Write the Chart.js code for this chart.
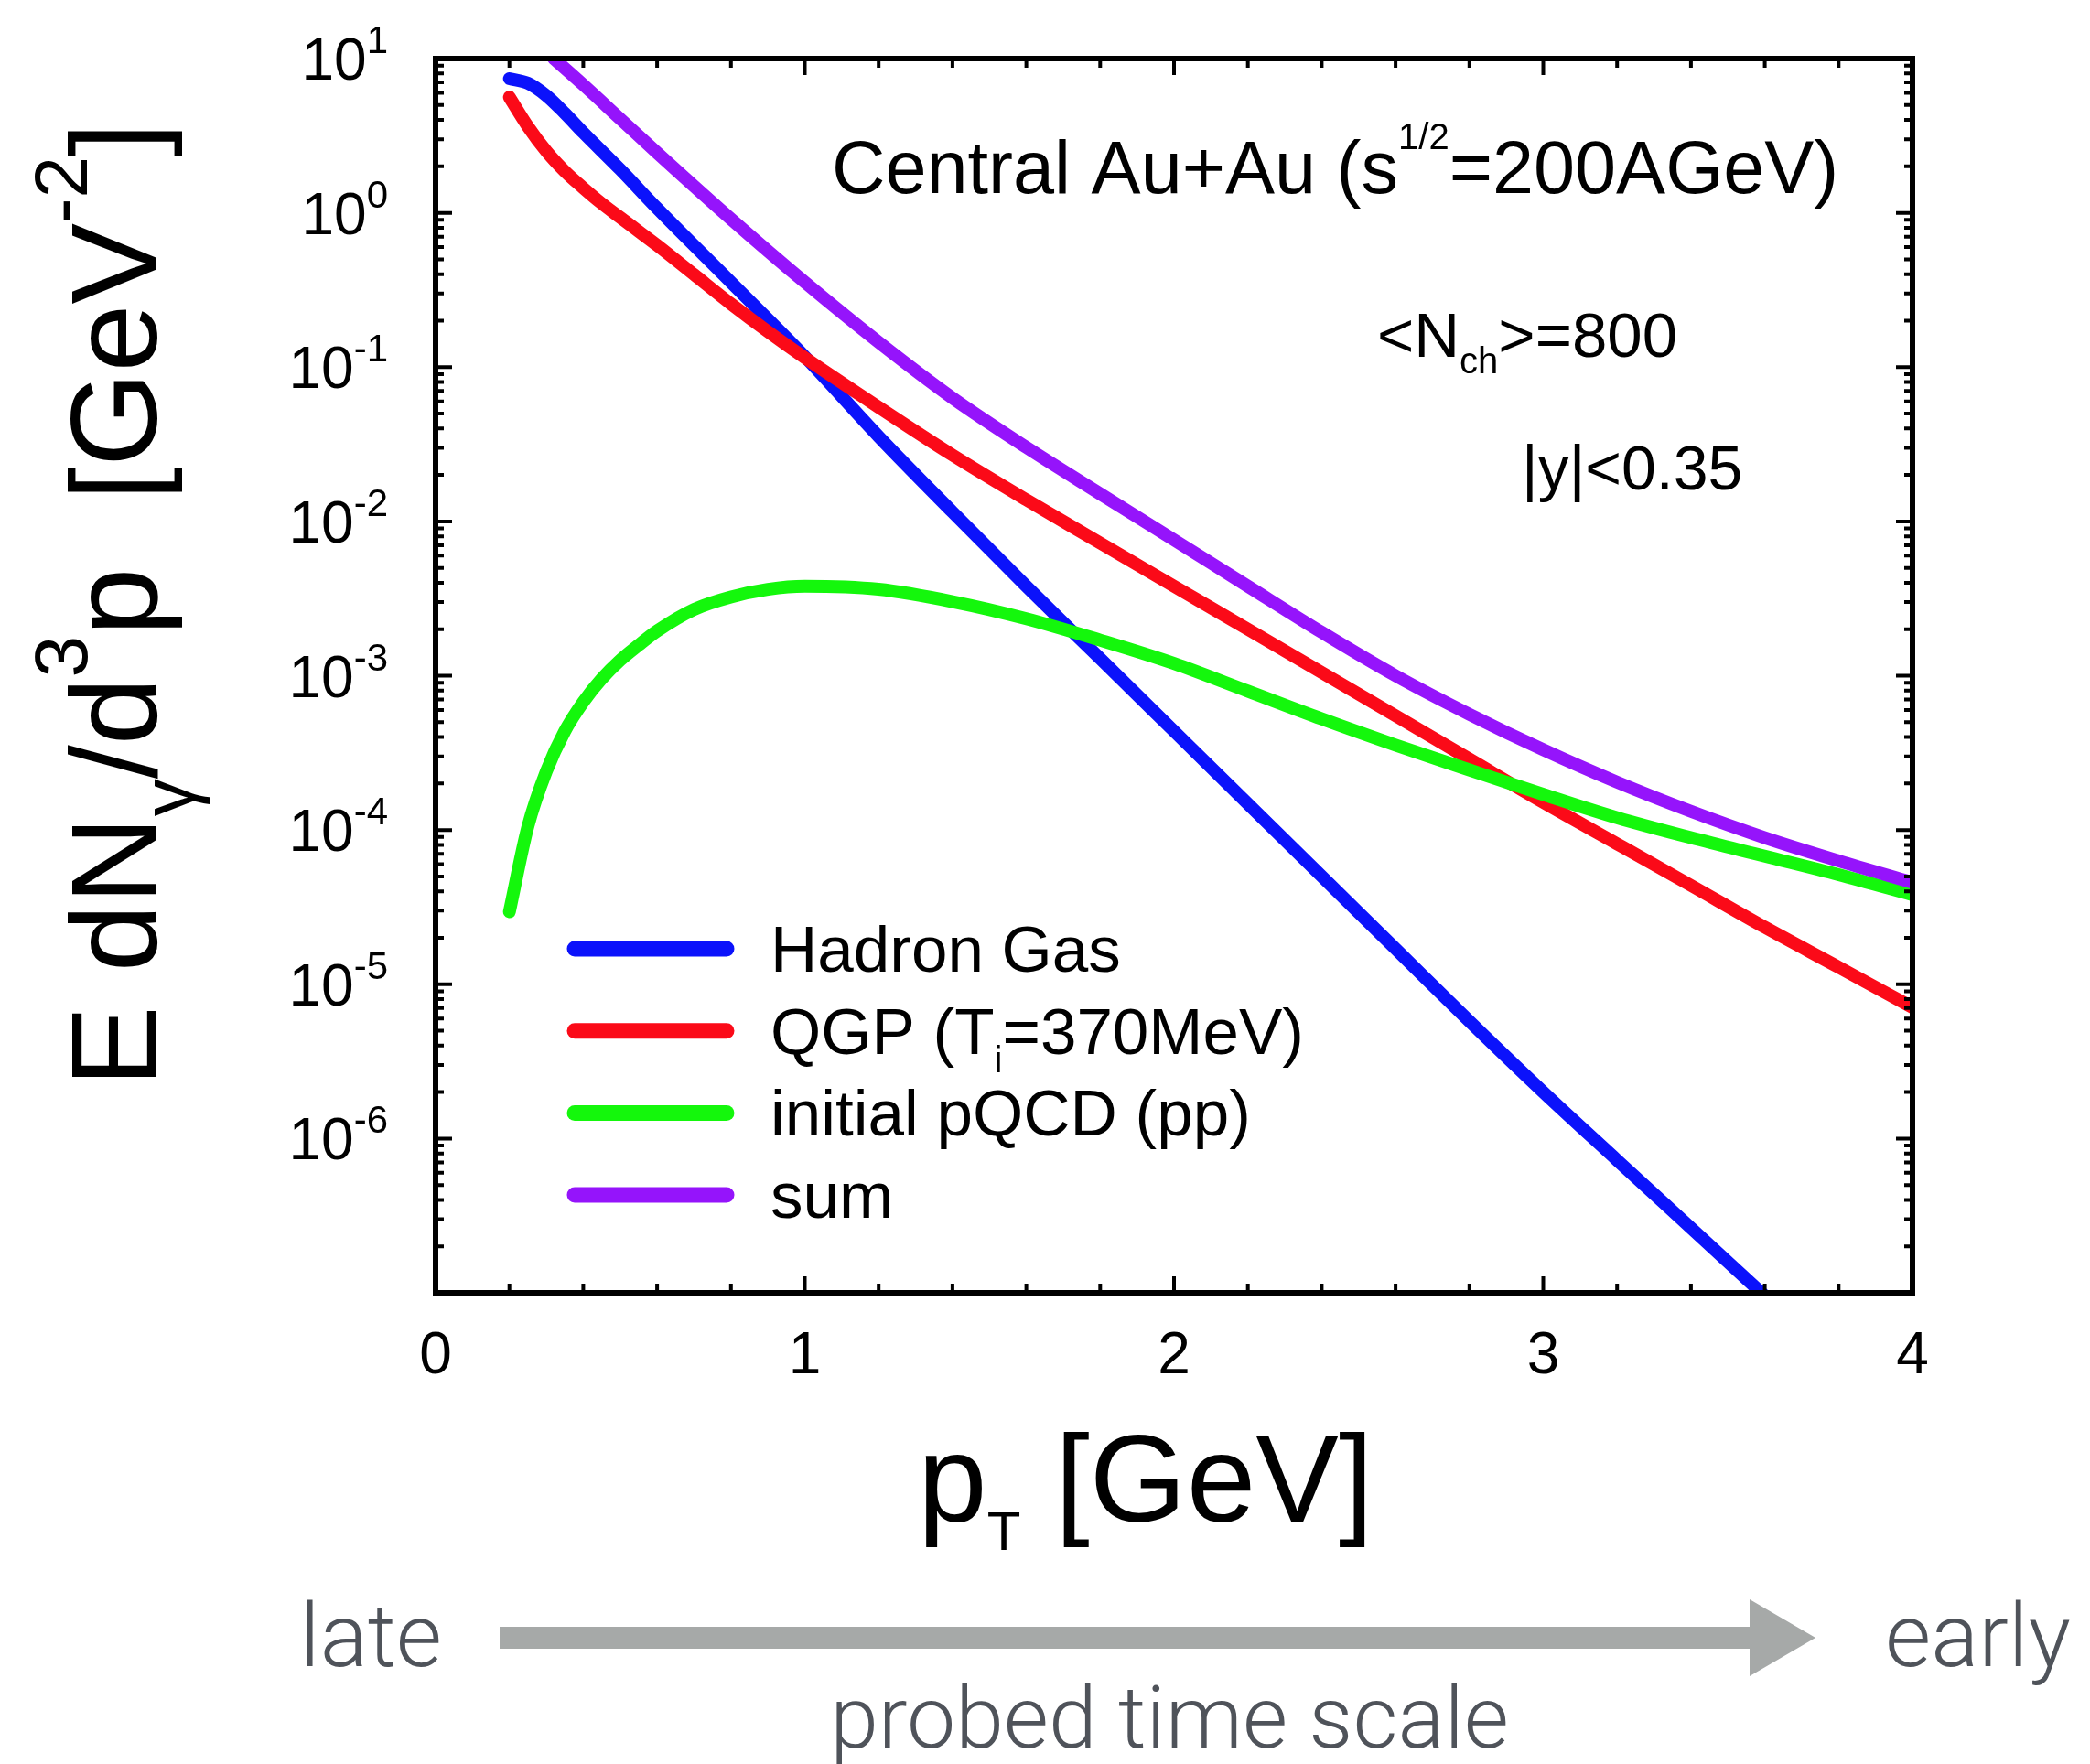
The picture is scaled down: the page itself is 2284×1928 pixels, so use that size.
<!DOCTYPE html>
<html>
<head>
<meta charset="utf-8">
<script src="https://cdn.jsdelivr.net/npm/chart.js@4.4.0/dist/chart.umd.min.js"></script>
<style>
  body { margin: 0; background: #fff; }
  canvas { display: block; }
</style>
</head>
<body>
<canvas id="espectro" width="2284" height="1928"></canvas>
<script>
// pT [GeV] and E dN/d3p [GeV^-2]
const ptHadron = [0.2, 0.25, 0.3, 0.35, 0.4, 0.5, 0.6, 0.8, 1.0, 1.2, 1.4, 1.6, 1.8, 2.0, 2.2, 2.4, 2.6, 2.8, 3.0, 3.2, 3.4, 3.6];
const hadronGas = [7.41, 6.92, 5.75, 4.42, 3.31, 1.91, 1.07, 0.355, 0.117, 3.55e-2, 1.15e-2, 3.80e-3, 1.29e-3, 4.37e-4, 1.48e-4, 5.01e-5, 1.70e-5, 5.75e-6, 2.00e-6, 7.24e-7, 2.63e-7, 9.55e-8];

const ptQgp = [0.2, 0.25, 0.3, 0.35, 0.4, 0.45, 0.5, 0.55, 0.6, 0.7, 0.8, 0.9, 1.0, 1.2, 1.4, 1.6, 1.8, 2.0, 2.2, 2.4, 2.6, 2.8, 3.0, 3.2, 3.4, 3.6, 3.8, 4.0];
const qgp = [5.62, 3.63, 2.51, 1.86, 1.45, 1.15, 0.933, 0.759, 0.617, 0.398, 0.257, 0.170, 0.115, 5.50e-2, 2.69e-2, 1.38e-2, 7.24e-3, 3.80e-3, 2.00e-3, 1.05e-3, 5.50e-4, 2.88e-4, 1.51e-4, 8.13e-5, 4.37e-5, 2.34e-5, 1.29e-5, 7.08e-6];

const ptPqcd = [0.2, 0.25, 0.3, 0.35, 0.4, 0.45, 0.5, 0.55, 0.6, 0.7, 0.8, 0.9, 1.0, 1.2, 1.4, 1.6, 1.8, 2.0, 2.2, 2.4, 2.6, 2.8, 3.0, 3.2, 3.4, 3.6, 3.8, 4.0];
const pqcd = [2.95e-5, 1.05e-4, 2.40e-4, 4.37e-4, 6.76e-4, 9.55e-4, 1.26e-3, 1.58e-3, 1.95e-3, 2.69e-3, 3.24e-3, 3.63e-3, 3.80e-3, 3.63e-3, 3.02e-3, 2.34e-3, 1.70e-3, 1.20e-3, 7.94e-4, 5.25e-4, 3.55e-4, 2.45e-4, 1.70e-4, 1.20e-4, 8.91e-5, 6.76e-5, 5.13e-5, 3.80e-5];

const ptSum = [0.32, 0.4, 0.5, 0.6, 0.8, 1.0, 1.2, 1.4, 1.6, 1.8, 2.0, 2.2, 2.4, 2.6, 2.8, 3.0, 3.2, 3.4, 3.6, 3.8, 4.0];
const soma = [10, 6.76, 4.07, 2.45, 0.912, 0.355, 0.145, 6.31e-2, 3.02e-2, 1.51e-2, 7.59e-3, 3.80e-3, 1.91e-3, 1.00e-3, 5.62e-4, 3.31e-4, 2.04e-4, 1.32e-4, 8.91e-5, 6.31e-5, 4.57e-5];

const xTicks = [0, 1, 2, 3, 4];
const yExpoentes = [1, 0, -1, -2, -3, -4, -5, -6];

const FONTE = '"Liberation Sans", Arial, Helvetica, sans-serif';
const FONTE_LEVE = 'Roboto, "Open Sans", Lato, sans-serif';

function pontos(xs, ys) {
    return xs.map((x, i) => ({ x: x, y: ys[i] }));
}

// draws text made of pieces [texto, tamanho, deslocamento vertical]
function textoRico(ctx, partes, x, y, alinhamento) {
    let largura = 0;
    partes.forEach(p => {
        ctx.font = p[1] + 'px ' + FONTE;
        largura += ctx.measureText(p[0]).width;
    });
    if (alinhamento === 'right') x -= largura;
    if (alinhamento === 'center') x -= largura / 2;
    ctx.textAlign = 'left';
    ctx.textBaseline = 'alphabetic';
    partes.forEach(p => {
        ctx.font = p[1] + 'px ' + FONTE;
        ctx.fillText(p[0], x, y + (p[2] || 0));
        x += ctx.measureText(p[0]).width;
    });
}

const moldura = {
    id: 'moldura',
    afterDraw(chart) {
        const ctx = chart.ctx;
        const a = chart.chartArea;
        const sx = chart.scales.x;
        const sy = chart.scales.y;
        ctx.save();
        ctx.strokeStyle = '#000';
        ctx.fillStyle = '#000';

        // ticks, pointing inwards on all four sides
        ctx.lineWidth = 4;
        ctx.beginPath();
        for (let k = 0; k <= 20; k++) {
            const v = k * 0.2;
            const px = sx.getPixelForValue(v);
            const len = (k % 5 === 0) ? 18 : 10;
            ctx.moveTo(px, a.bottom); ctx.lineTo(px, a.bottom - len);
            ctx.moveTo(px, a.top); ctx.lineTo(px, a.top + len);
        }
        for (let e = -7; e <= 0; e++) {
            for (let m = 1; m <= 9; m++) {
                const v = m * Math.pow(10, e);
                const py = sy.getPixelForValue(v);
                const len = (m === 1) ? 18 : 9;
                ctx.moveTo(a.left, py); ctx.lineTo(a.left + len, py);
                ctx.moveTo(a.right, py); ctx.lineTo(a.right - len, py);
            }
        }
        ctx.stroke();

        ctx.lineWidth = 6;
        ctx.strokeRect(a.left, a.top, a.right - a.left, a.bottom - a.top);

        // tick labels
        xTicks.forEach(v => {
            ctx.font = '64px ' + FONTE;
            ctx.textAlign = 'center';
            ctx.textBaseline = 'alphabetic';
            ctx.fillText(String(v), sx.getPixelForValue(v), a.bottom + 88);
        });
        yExpoentes.forEach(e => {
            const py = sy.getPixelForValue(Math.pow(10, e));
            textoRico(ctx, [['10', 64, 0], [String(e), 42, -29]], 424, py + 23, 'right');
        });

        // axis titles
        textoRico(ctx, [['p', 136, 0], ['T', 60, 31], [' [GeV]', 136, 0]], 1003, 1663, 'left');

        ctx.save();
        ctx.translate(171, 1188);
        ctx.rotate(-Math.PI / 2);
        textoRico(ctx, [['E dN', 133, 0], ['\u03b3', 82, 41], ['/d', 133, 0], ['3', 82, -76],
                        ['p  [GeV', 133, 0], ['-2', 82, -76], [']', 133, 0]], 0, 0, 'left');
        ctx.restore();

        // annotations
        textoRico(ctx, [['Central Au+Au (s', 81, 0], ['1/2', 40, -48], ['=200AGeV)', 81, 0]], 909, 211, 'left');
        textoRico(ctx, [['<N', 69, 0], ['ch', 40, 18], ['>=800', 69, 0]], 1505, 390, 'left');
        textoRico(ctx, [['|y|<0.35', 68, 0]], 1663, 535, 'left');

        // legend
        const rotulos = [
            [['Hadron Gas', 71, 0]],
            [['QGP (T', 71, 0], ['i', 40, 20], ['=370MeV)', 71, 0]],
            [['initial pQCD (pp)', 71, 0]],
            [['sum', 71, 0]]
        ];
        chart.data.datasets.forEach((ds, i) => {
            const ly = 1037 + i * 89.7;
            ctx.strokeStyle = ds.borderColor;
            ctx.lineWidth = 17;
            ctx.lineCap = 'round';
            ctx.beginPath();
            ctx.moveTo(628, ly);
            ctx.lineTo(794, ly);
            ctx.stroke();
            ctx.fillStyle = '#000';
            textoRico(ctx, rotulos[i], 842, ly + 25, 'left');
        });

        // time-scale arrow under the plot
        ctx.fillStyle = '#a6a9a8';
        ctx.fillRect(546, 1778, 1368, 24);
        ctx.beginPath();
        ctx.moveTo(1912, 1748);
        ctx.lineTo(1984, 1790);
        ctx.lineTo(1912, 1832);
        ctx.closePath();
        ctx.fill();

        ctx.fillStyle = '#4f535a';
        ctx.font = '300 97px ' + FONTE_LEVE;
        ctx.textBaseline = 'alphabetic';
        ctx.textAlign = 'right';
        ctx.fillText('late', 483, 1821);
        ctx.textAlign = 'left';
        ctx.fillText('early', 2060, 1821);
        ctx.font = '300 95px ' + FONTE_LEVE;
        ctx.textAlign = 'center';
        ctx.fillText('probed time scale', 1278, 1910);

        ctx.restore();
    }
};

function linha(rotulo, dados, cor, ordem) {
    return {
        label: rotulo,
        data: dados,
        borderColor: cor,
        backgroundColor: cor,
        borderWidth: 14,
        borderCapStyle: 'round',
        borderJoinStyle: 'round',
        pointRadius: 0,
        fill: false,
        cubicInterpolationMode: 'monotone',
        order: ordem
    };
}

let config = {
    type: 'line',
    data: {
        datasets: [
            linha('Hadron Gas', pontos(ptHadron, hadronGas), '#0b12fb', 3),
            linha('QGP (Ti=370MeV)', pontos(ptQgp, qgp), '#fb0a18', 2),
            linha('initial pQCD (pp)', pontos(ptPqcd, pqcd), '#14f70c', 1),
            linha('sum', pontos(ptSum, soma), '#9514fb', 0)
        ]
    },
    options: {
        responsive: false,
        devicePixelRatio: 1,
        animation: false,
        layout: { padding: { top: 64, right: 194, left: 0, bottom: 0 } },
        plugins: { legend: { display: false }, tooltip: { enabled: false } },
        scales: {
            x: {
                type: 'linear', min: 0, max: 4,
                grid: { display: false }, border: { display: false },
                ticks: { display: false },
                afterFit: s => { s.height = 515; }
            },
            y: {
                type: 'logarithmic', min: 1e-7, max: 10,
                grid: { display: false }, border: { display: false },
                ticks: { display: false },
                afterFit: s => { s.width = 476; }
            }
        }
    },
    plugins: [moldura]
};

let ctx = document.getElementById('espectro').getContext('2d');
window.grafico = new Chart(ctx, config);
</script>
</body>
</html>
